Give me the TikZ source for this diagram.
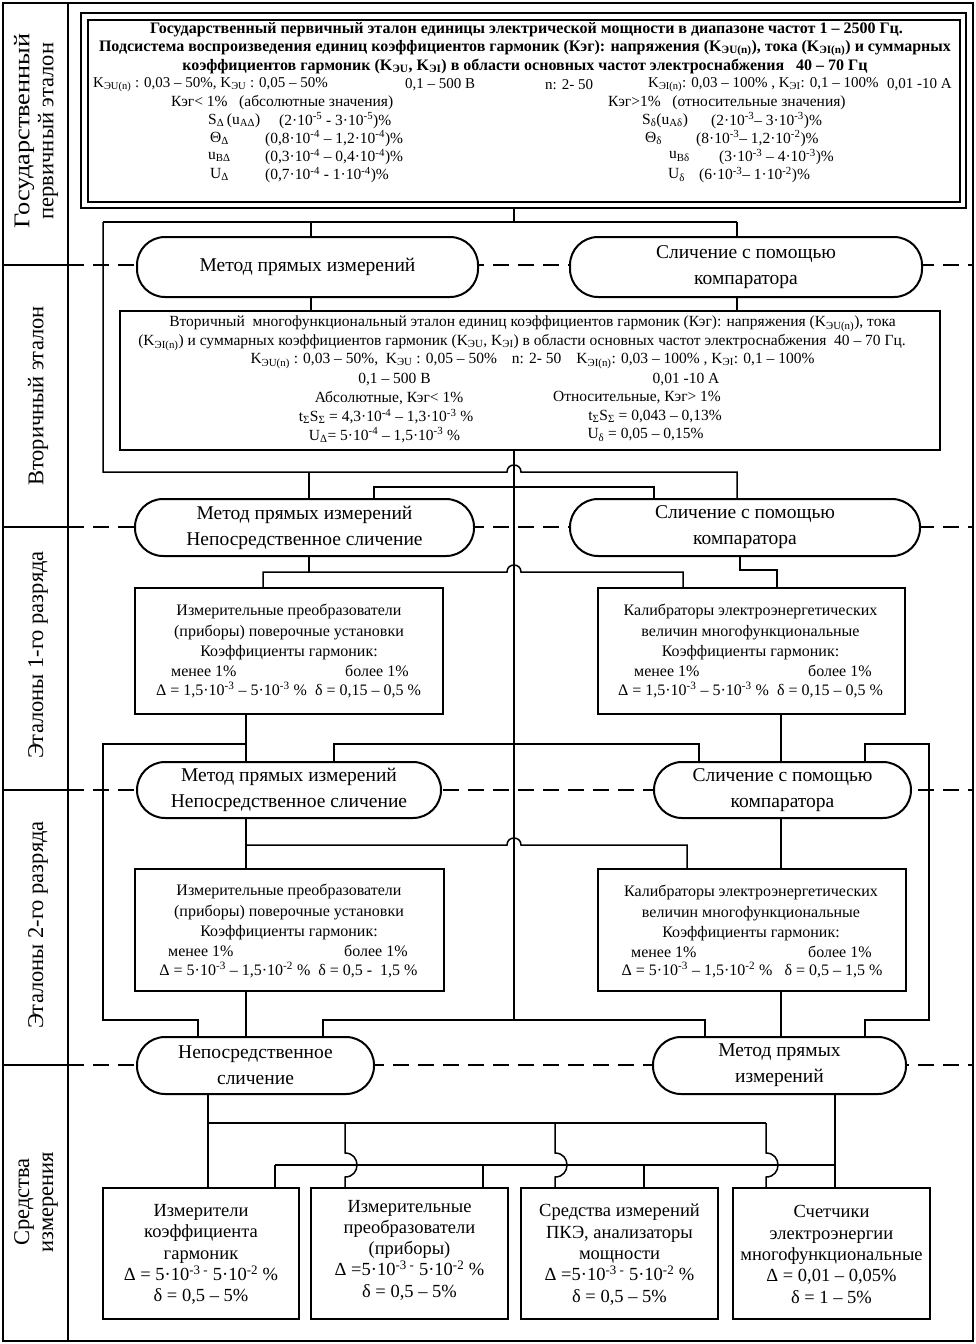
\documentclass[tikz,border=0pt]{standalone}
\usepackage{fontspec}
\setmainfont{Liberation Serif}
\newcommand\sbx[1]{\textsubscript{#1}}
\newcommand\spx[1]{\textsuperscript{#1}}
\newcommand\fA{\fontsize{15.5}{19}\selectfont}
\newcommand\fAs{\fontsize{15}{19}\selectfont}
\newcommand\fAb{\fontsize{16}{19}\selectfont\bfseries}
\newcommand\fB{\fontsize{16}{20.5}\selectfont}
\newcommand\fC{\fontsize{18.5}{21.3}\selectfont}
\newcommand\fP{\fontsize{19.5}{26}\selectfont}
\newcommand\fL{\fontsize{22.5}{24}\selectfont}
\begin{document}
\begin{tikzpicture}[x=1pt,y=-1pt,
  conn/.style={line width=1.5pt},
  frm/.style={line width=2pt},
  sepd/.style={line width=2pt, dash pattern=on 16pt off 9pt},
  boxst/.style={draw, line width=2pt, fill=white, inner sep=0pt},
  pill/.style={draw, line width=2pt, fill=white, rounded corners=28pt, inner sep=0pt, align=center, font=\fP},
  lbl/.style={rotate=90, align=center, font=\fL, inner sep=0pt},
  tw/.style={anchor=west, inner sep=0pt, font=\fA},
  tc/.style={anchor=center, inner sep=0pt, font=\fA},
  tb/.style={anchor=center, inner sep=0pt, font=\fB, align=center},
  tbw/.style={anchor=west, inner sep=0pt, font=\fB},
  tm/.style={anchor=center, inner sep=0pt, font=\fC, align=center}]
\useasboundingbox (0,0) rectangle (975,1344);
% frame and rows
\draw[frm] (2.5,2.5) rectangle (973,1341);
\draw[frm] (68,2.5) -- (68,1341);
\foreach \yy in {265,527,790,1065} {\draw[frm] (2.5,\yy) -- (68,\yy);
  \draw[sepd] (68,\yy) -- (973,\yy);}
\node[lbl] (lab1) at (36,131) {\scalebox{1.17}[1]{Государственный}\\первичный эталон};
\node[lbl] (lab2) at (38,396) {Вторичный эталон};
\node[lbl] (lab3) at (38,655) {Эталоны 1-го разряда};
\node[lbl] (lab4) at (38,925) {Эталоны 2-го разряда};
\node[lbl] (lab5) at (36,1202) {Средства\\измерения};
% top double box
\node[draw, line width=2pt, minimum width=885pt, minimum height=195pt, inner sep=0pt] (P) at (523.5,110.5) {};
\node[draw, line width=2pt, minimum width=872pt, minimum height=182pt, inner sep=0pt] (Pi) at (524,111) {};
\node[tc, font=\fAb] (p1) at (526.5,30) {Государственный первичный эталон единицы электрической мощности в диапазоне частот 1 – 2500 Гц.};
\node[tc, font=\fAb] (p2) at (525,48.1) {Подсистема воспроизведения единиц коэффициентов гармоник (Кэг): напряжения (K\sbx{ЭU(n)}), тока (K\sbx{ЭI(n)}) и суммарных};
\node[tc, font=\fAb] (p3) at (525,66.2) {коэффициентов гармоник (K\sbx{ЭU}, K\sbx{ЭI}) в области основных частот электроснабжения\ \ \ 40 – 70 Гц};
\node[tw, font=\fAs] (p4a) at (93,84.3) {K\sbx{ЭU(n)} : 0,03 – 50\%, K\sbx{ЭU} : 0,05 – 50\%};
\node[tw, font=\fAs] (p4b) at (405,84.3) {0,1 – 500 В};
\node[tw, font=\fAs] (p4c) at (545,84.3) {n: 2- 50};
\node[tw, font=\fAs] (p4d) at (648,84.3) {K\sbx{ЭI(n)}: 0,03 – 100\% , K\sbx{ЭI}: 0,1 – 100\%};
\node[anchor=east, inner sep=0pt, font=\fAs] (p4e) at (952,84.3) {0,01 -10 А};
\node[tw] (p5a) at (171,102.4) {Кэг< 1\%\ \ \ (абсолютные значения)};
\node[tw] (p5b) at (608,102.4) {Кэг>1\%\ \ \ (относительные значения)};
\node[tw] (p6a) at (208,120.5) {S\sbx{Δ}\,(u\sbx{AΔ})};
\node[tw] (p6b) at (279,120.5) {(2·10\spx{-5} - 3·10\spx{-5})\%};
\node[tw] (p6c) at (642,120.5) {S\sbx{δ}(u\sbx{Aδ})};
\node[tw] (p6d) at (711,120.5) {(2·10\spx{-3}– 3·10\spx{-3})\%};
\node[tw] (p7a) at (210,138.6) {Θ\sbx{Δ}};
\node[tw] (p7b) at (265,138.6) {(0,8·10\spx{-4} – 1,2·10\spx{-4})\%};
\node[tw] (p7c) at (645,138.6) {Θ\sbx{δ}};
\node[tw] (p7d) at (696,138.6) {(8·10\spx{-3}– 1,2·10\spx{-2})\%};
\node[tw] (p8a) at (208,156.7) {u\sbx{BΔ}};
\node[tw] (p8b) at (265,156.7) {(0,3·10\spx{-4} – 0,4·10\spx{-4})\%};
\node[tw] (p8c) at (669,156.7) {u\sbx{Bδ}};
\node[tw] (p8d) at (719,156.7) {(3·10\spx{-3} – 4·10\spx{-3})\%};
\node[tw] (p9a) at (210,174.8) {U\sbx{Δ}};
\node[tw] (p9b) at (265,174.8) {(0,7·10\spx{-4} - 1·10\spx{-4})\%};
\node[tw] (p9c) at (668,174.8) {U\sbx{δ}};
\node[tw] (p9d) at (699,174.8) {(6·10\spx{-3}– 1·10\spx{-2})\%};
% pills
\node[pill, minimum width=341pt, minimum height=60pt] (A2) at (307.5,267) {Метод прямых измерений};
\node[pill, minimum width=352pt, minimum height=60pt] (B2) at (746,267) {Сличение с помощью\\компаратора};
\node[pill, minimum width=339pt, minimum height=57pt] (A3) at (304.5,527.5) {Метод прямых измерений\\Непосредственное сличение};
\node[pill, minimum width=350pt, minimum height=57pt] (B3) at (745,527.5) {Сличение с помощью\\компаратора};
\node[pill, minimum width=304pt, minimum height=56pt] (A4) at (289,790) {Метод прямых измерений\\Непосредственное сличение};
\node[pill, minimum width=257pt, minimum height=56pt] (B4) at (782.5,790) {Сличение с помощью\\компаратора};
\node[pill, minimum width=237pt, minimum height=57pt] (A5) at (255.5,1065.5) {Непосредственное\\сличение};
\node[pill, minimum width=253pt, minimum height=57pt] (B5) at (779.5,1065.5) {Метод прямых\\измерений};
% secondary box
\node[boxst, minimum width=820pt, minimum height=139pt] (V) at (530,380.5) {};
\node[tc] (v1) at (532.5,324) {Вторичный\ \ многофункциональный эталон единиц коэффициентов гармоник (Кэг): напряжения (K\sbx{ЭU(n)}), тока};
\node[tc] (v2) at (522,342.5) {(K\sbx{ЭI(n)}) и суммарных коэффициентов гармоник (K\sbx{ЭU}, K\sbx{ЭI}) в области основных частот электроснабжения\ \ 40 – 70 Гц.};
\node[tc] (v3) at (532.5,361) {K\sbx{ЭU(n)} : 0,03 – 50\%,\ \ K\sbx{ЭU} : 0,05 – 50\%\hspace{15pt}n: 2- 50\hspace{15pt}K\sbx{ЭI(n)}: 0,03 – 100\% , K\sbx{ЭI}: 0,1 – 100\%};
\node[tc] (v4a) at (394.5,379.5) {0,1 – 500 В};
\node[tc] (v4b) at (686,379.5) {0,01 -10 А};
\node[tc] (v5a) at (389,398) {Абсолютные, Кэг< 1\%};
\node[tc] (v5b) at (637,398) {Относительные, Кэг>\ 1\%};
\node[tc] (v6a) at (386,416.5) {t\sbx{Σ}S\sbx{Σ} = 4,3·10\spx{-4} – 1,3·10\spx{-3} \%};
\node[tc] (v6b) at (655,416.5) {t\sbx{Σ}S\sbx{Σ} = 0,043 – 0,13\%};
\node[tc] (v7a) at (384.5,435) {U\sbx{Δ}= 5·10\spx{-4} – 1,5·10\spx{-3} \%};
\node[tc] (v7b) at (645.5,435) {U\sbx{δ} = 0,05 – 0,15\%};
% first-rank boxes
\node[boxst, minimum width=308pt, minimum height=126pt] (L3) at (289,651) {};
\node[boxst, minimum width=307pt, minimum height=126pt] (R3) at (751.5,651) {};
\node[tb] (l3a) at (289,632) {Измерительные преобразователи\\(приборы) поверочные установки\\Коэффициенты гармоник:};
\node[tbw] (l3b) at (171,671) {менее 1\%};
\node[tbw] (l3c) at (345,671) {более 1\%};
\node[tb] (l3d) at (288.5,690) {Δ = 1,5·10\spx{-3} – 5·10\spx{-3} \%\ \ δ = 0,15 – 0,5 \%};
\node[tb] (r3a) at (750.5,632) {Калибраторы электроэнергетических\\величин многофункциональные\\Коэффициенты гармоник:};
\node[tbw] (r3b) at (634,671) {менее 1\%};
\node[tbw] (r3c) at (808,671) {более 1\%};
\node[tb] (r3d) at (750.5,690) {Δ = 1,5·10\spx{-3} – 5·10\spx{-3} \%\ \ δ = 0,15 – 0,5 \%};
% second-rank boxes
\node[boxst, minimum width=309pt, minimum height=122pt] (L4) at (289.5,930) {};
\node[boxst, minimum width=308pt, minimum height=122pt] (R4) at (752,930) {};
\node[tb] (l4a) at (289,912) {Измерительные преобразователи\\(приборы) поверочные установки\\Коэффициенты гармоник:};
\node[tbw] (l4b) at (168,951) {менее 1\%};
\node[tbw] (l4c) at (344,951) {более 1\%};
\node[tb] (l4d) at (288.5,970) {Δ = 5·10\spx{-3} – 1,5·10\spx{-2} \%\ \ δ = 0,5 -\ \ 1,5 \%};
\node[tb] (r4a) at (751,913) {Калибраторы электроэнергетических\\величин многофункциональные\\Коэффициенты гармоник:};
\node[tbw] (r4b) at (631,952) {менее 1\%};
\node[tbw] (r4c) at (808,952) {более 1\%};
\node[tb] (r4d) at (752,970) {Δ = 5·10\spx{-3} – 1,5·10\spx{-2} \%\ \ \ δ = 0,5 – 1,5 \%};
% measuring instruments
\node[boxst, minimum width=196pt, minimum height=131pt] (M1) at (201,1253.5) {};
\node[boxst, minimum width=197pt, minimum height=131pt] (M2) at (409.5,1253.5) {};
\node[boxst, minimum width=197pt, minimum height=131pt] (M3) at (619.5,1253.5) {};
\node[boxst, minimum width=197pt, minimum height=131pt] (M4) at (831.5,1253.5) {};
\node[tm] (m1) at (201,1254.5) {Измерители\\коэффициента\\гармоник\\Δ = 5·10\spx{-3 -} 5·10\spx{-2} \%\\δ = 0,5 – 5\%};
\node[tm] (m2) at (409.5,1250) {Измерительные\\преобразователи\\(приборы)\\Δ =5·10\spx{-3 -} 5·10\spx{-2} \%\\δ = 0,5 – 5\%};
\node[tm] (m3) at (619.5,1254.5) {Средства измерений\\ПКЭ, анализаторы\\мощности\\Δ =5·10\spx{-3 -} 5·10\spx{-2} \%\\δ = 0,5 – 5\%};
\node[tm] (m4) at (831.5,1254.5) {Счетчики\\электроэнергии\\многофункциональные\\Δ = 0,01 – 0,05\%\\δ = 1 – 5\%};
% connectors: row 2
\coordinate (j1) at (514,222);
\draw[conn] (P.south -| j1) -- (j1);
\draw[conn] (103,222) -- (737,222);
\draw[conn] (311,222) -- (A2.north -| 311,0);
\draw[conn] (737,222) -- (B2.north -| 737,0);
\draw[conn] (A2.south -| 311,0) -- (V.north -| 311,0);
\draw[conn] (B2.south -| 737,0) -- (V.north -| 737,0);
\draw[conn] (103,222) -- (103,472) -- (507,472) .. controls (507,462.7) and (521,462.7) .. (521,472) -- (737,472) -- (B3.north -| 737,0);
\draw[conn] (309,472) -- (A3.north -| 309,0);
\draw[conn] (V.south -| 514,0) -- (514,1020);
\draw[conn] (A3.north -| 374,0) -- (374,487) -- (654,487) -- (B3.north -| 654,0);
% row 3
\draw[conn] (A3.south -| 309,0) -- (309,572);
\draw[conn] (L3.north -| 263,0) -- (263,572) -- (507,572) .. controls (507,562.7) and (521,562.7) .. (521,572) -- (683,572) -- (R3.north -| 683,0);
\draw[conn] (B3.south -| 740,0) -- (740,570) -- (777,570) -- (R3.north -| 777,0);
\draw[conn] (L3.south -| 246,0) -- (A4.north -| 246,0);
\draw[conn] (246,744) -- (103,744) -- (103,1020) -- (198,1020) -- (A5.north -| 198,0);
\draw[conn] (A4.north -| 334,0) -- (334,744) -- (699,744) -- (B4.north -| 699,0);
\draw[conn] (R3.south -| 781,0) -- (B4.north -| 781,0);
\draw[conn] (B4.north -| 865,0) -- (865,744) -- (929,744) -- (929,1020) -- (865,1020) -- (B5.north -| 865,0);
% row 4
\draw[conn] (A4.south -| 246,0) -- (L4.north -| 246,0);
\draw[conn] (246,845) -- (507,845) .. controls (507,835.7) and (521,835.7) .. (521,845) -- (687,845) -- (R4.north -| 687,0);
\draw[conn] (B4.south -| 781,0) -- (R4.north -| 781,0);
\draw[conn] (L4.south -| 246,0) -- (A5.north -| 246,0);
\draw[conn] (R4.south -| 781,0) -- (B5.north -| 781,0);
\draw[conn] (A5.north -| 323,0) -- (323,1020) -- (705,1020) -- (B5.north -| 705,0);
% row 5
\draw[conn] (A5.south -| 208,0) -- (M1.north -| 208,0);
\draw[conn] (208,1123) -- (766,1123);
\draw[conn] (345,1123) -- (345,1153) .. controls (361,1153) and (361,1177) .. (345,1177) -- (M2.north -| 345,0);
\draw[conn] (555,1123) -- (555,1153) .. controls (571,1153) and (571,1177) .. (555,1177) -- (M3.north -| 555,0);
\draw[conn] (766,1123) -- (766,1153) .. controls (782,1153) and (782,1177) .. (766,1177) -- (M4.north -| 766,0);
\draw[conn] (B5.south -| 835,0) -- (M4.north -| 835,0);
\draw[conn] (275,1165) -- (835,1165);
\draw[conn] (275,1165) -- (M1.north -| 275,0);
\draw[conn] (483,1165) -- (M2.north -| 483,0);
\draw[conn] (644,1165) -- (M3.north -| 644,0);
\end{tikzpicture}
\end{document}
